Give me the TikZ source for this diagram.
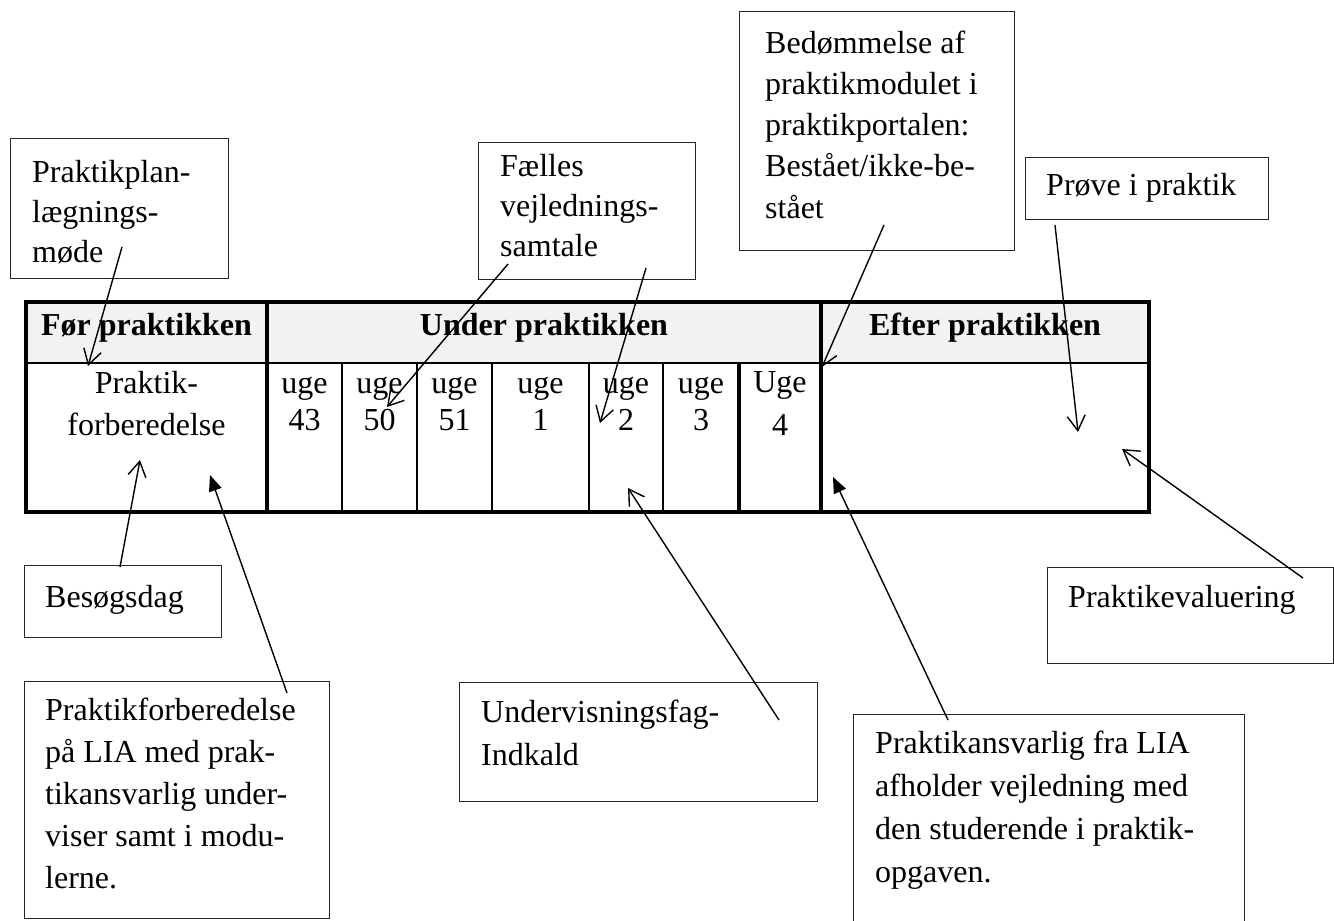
\documentclass[tikz,border=0pt]{standalone}
\usepackage{fontspec}
\setmainfont{Liberation Serif}
\usetikzlibrary{arrows.meta}
\definecolor{hdrgray}{RGB}{242,242,242}
\begin{document}
\begin{tikzpicture}[x=1pt,y=-1pt,
  box/.style={draw=black!85, line width=1.4pt, rectangle, inner sep=0pt, anchor=north west},
  txt/.style={anchor=base west, inner sep=0pt, text width=420pt, align=flush left},
  cell/.style={anchor=base, inner sep=0pt, text width=90pt, align=flush center},
  hdr/.style={anchor=base, inner sep=0pt, font=\fontsize{32}{38}\selectfont\bfseries},
  conn/.style={line width=1.4pt},
  openarr/.style={conn, -{Straight Barb[length=15pt,width=18pt]}},
  fillarr/.style={conn, -{Triangle[length=16pt,width=13pt]}},
  thickrule/.style={line width=3.2pt},
  thinrule/.style={line width=2pt},
]
\useasboundingbox (0,0) rectangle (1334,921);

% ---------- table ----------
\fill[hdrgray] (26,302) rectangle (1149,363);
\draw[line width=2.2pt] (26,363) -- (1149,363);
\foreach \xx in {342,417,492,589,663} {\draw[thinrule] (\xx,363) -- (\xx,512);}
\draw[thickrule] (739,363) -- (739,512);
\draw[thickrule] (267,302) -- (267,512);
\draw[line width=3.6pt] (821,302) -- (821,512);
\draw[line width=3.6pt] (26,302) rectangle (1149,512);

\node[hdr] (hFoer)  at (146.5,335) {Før praktikken};
\node[hdr] (hUnder) at (544,335)   {Under praktikken};
\node[hdr] (hEfter) at (985,335)   {Efter praktikken};

\node[cell, text width=230pt, font=\fontsize{32}{42}\selectfont] (cForb) at (146.5,393) {Praktik-\\forberedelse};
\node[cell, font=\fontsize{32}{37}\selectfont] (w43) at (304.5,393) {uge\\43};
\node[cell, font=\fontsize{32}{37}\selectfont] (w50) at (379.5,393) {uge\\50};
\node[cell, font=\fontsize{32}{37}\selectfont] (w51) at (454.5,393) {uge\\51};
\node[cell, font=\fontsize{32}{37}\selectfont] (w1)  at (540.5,393) {uge\\1};
\node[cell, font=\fontsize{32}{37}\selectfont] (w2)  at (626,393)   {uge\\2};
\node[cell, font=\fontsize{32}{37}\selectfont] (w3)  at (701,393)   {uge\\3};
\node[cell, font=\fontsize{32}{43}\selectfont] (w4)  at (780,392)   {Uge\\4};

% ---------- boxes ----------
\node[box, minimum width=218, minimum height=140] (bPlan)   at (10,138)  {};
\node[box, minimum width=217, minimum height=137] (bFaelles) at (478,142) {};
\node[box, minimum width=275, minimum height=239] (bBed)    at (739,11)   {};
\node[box, minimum width=243, minimum height=62]  (bProeve) at (1025,157) {};
\node[box, minimum width=197, minimum height=72]  (bBesoeg) at (24,565)   {};
\node[box, minimum width=305, minimum height=237] (bForb)   at (24,681)   {};
\node[box, minimum width=358, minimum height=119] (bUnderv) at (459,682)  {};
\node[box, minimum width=391, minimum height=220] (bAnsv)   at (853,714)  {};
\node[box, minimum width=286, minimum height=96]  (bEval)   at (1047,567) {};

% ---------- box texts ----------
\node[txt, font=\fontsize{32}{40}\selectfont] (tPlan) at (32,182) {Praktikplan-\\lægnings-\\møde};
\node[txt, font=\fontsize{32}{40}\selectfont] (tFaelles) at (500,176) {Fælles\\vejlednings-\\samtale};
\node[txt, font=\fontsize{32}{41.3}\selectfont] (tBed) at (765,53) {Bedømmelse af\\praktikmodulet i\\praktikportalen:\\Bestået/ikke-be-\\stået};
\node[txt, font=\fontsize{32}{40}\selectfont] (tProeve) at (1046,195) {Prøve i praktik};
\node[txt, font=\fontsize{32}{40}\selectfont] (tBesoeg) at (45,607) {Besøgsdag};
\node[txt, font=\fontsize{32}{42}\selectfont] (tForb) at (45,720) {Praktikforberedelse\\på LIA med prak-\\tikansvarlig under-\\viser samt i modu-\\lerne.};
\node[txt, font=\fontsize{32}{43}\selectfont] (tUnderv) at (481,722) {Undervisningsfag-\\Indkald};
\node[txt, font=\fontsize{32}{43}\selectfont] (tAnsv) at (875,753) {Praktikansvarlig fra LIA\\afholder vejledning med\\den studerende i praktik-\\opgaven.};
\node[txt, font=\fontsize{32}{40}\selectfont] (tEval) at (1068,607) {Praktikevaluering};

% ---------- connector ends ----------
\coordinate (sPlan) at (122,247);    \coordinate (ePlan) at (88,366);
\coordinate (sFa1) at (508,264);     \coordinate (eFa1) at (387,407);
\coordinate (sFa2) at (646,268);     \coordinate (eFa2) at (600,423);
\coordinate (sBed) at (884,225);     \coordinate (eBed) at (822,367);
\coordinate (sPr) at (1055,225);     \coordinate (ePr) at (1078,432);
\coordinate (sBes) at (120,567);     \coordinate (eBes) at (140,460);
\coordinate (sForb) at (287,693);    \coordinate (eForb) at (210,475);
\coordinate (sUnd) at (779,720);     \coordinate (eUnd) at (628,488);
\coordinate (sAns) at (948,720);     \coordinate (eAns) at (833,477);
\coordinate (sEval) at (1303,578);   \coordinate (eEval) at (1122,449);

\draw[openarr] (sPlan) -- (ePlan);
\draw[openarr] (sFa1) -- (eFa1);
\draw[openarr] (sFa2) -- (eFa2);
\draw[openarr] (sBed) -- (eBed);
\draw[openarr] (sPr) -- (ePr);
\draw[openarr] (sBes) -- (eBes);
\draw[fillarr] (sForb) -- (eForb);
\draw[openarr] (sUnd) -- (eUnd);
\draw[fillarr] (sAns) -- (eAns);
\draw[openarr] (sEval) -- (eEval);
\end{tikzpicture}
\end{document}
